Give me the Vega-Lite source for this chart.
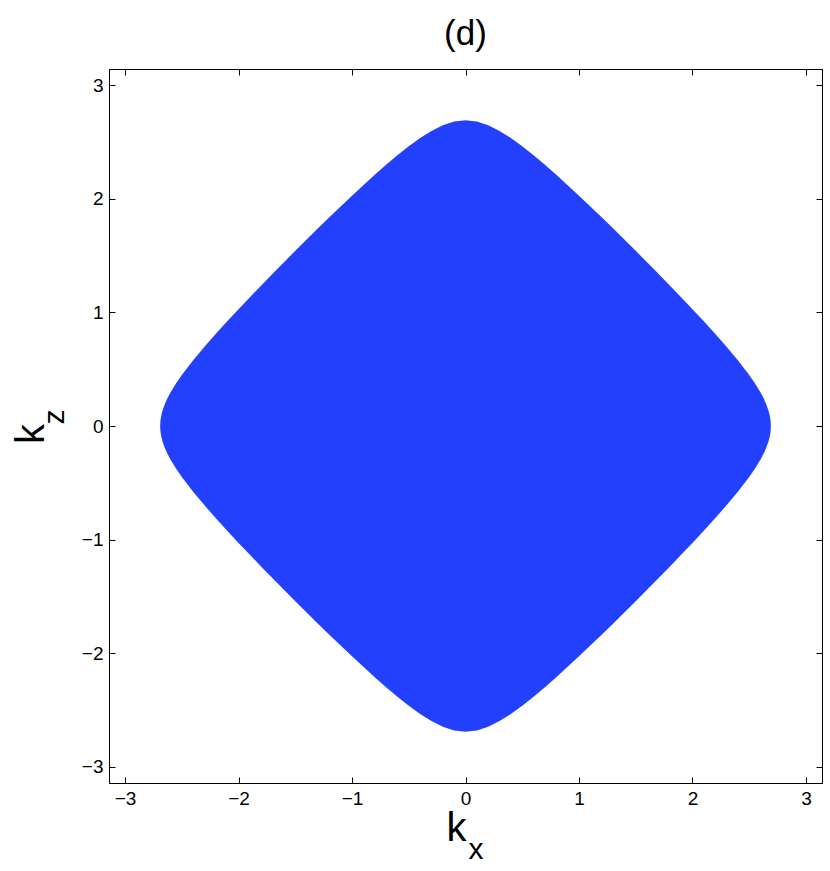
{
  "$schema": "https://vega.github.io/schema/vega-lite/v6.json",
  "width": 713,
  "height": 714,
  "autosize": "none",
  "padding": {"left": 109, "top": 69, "right": 8, "bottom": 88},
  "background": "white",
  "config": {"view": {"stroke": "black", "strokeWidth": 1}, "font": "Liberation Sans"},
  "title": {"text": "(d)", "fontSize": 35, "fontWeight": "normal", "font": "Liberation Sans", "color": "black", "anchor": "middle", "baseline": "alphabetic", "offset": 22, "dy": 33},
  "data": {"values": [
    {"kx": -2.6906, "kz_hi": 0, "kz_lo": 0},
    {"kx": -2.689, "kz_hi": 0.0370, "kz_lo": -0.0370},
    {"kx": -2.685, "kz_hi": 0.0699, "kz_lo": -0.0699},
    {"kx": -2.68, "kz_hi": 0.0965, "kz_lo": -0.0965},
    {"kx": -2.67, "kz_hi": 0.1354, "kz_lo": -0.1354},
    {"kx": -2.65, "kz_hi": 0.1922, "kz_lo": -0.1922},
    {"kx": -2.63, "kz_hi": 0.2373, "kz_lo": -0.2373},
    {"kx": -2.6, "kz_hi": 0.2947, "kz_lo": -0.2947},
    {"kx": -2.55, "kz_hi": 0.3762, "kz_lo": -0.3762},
    {"kx": -2.5, "kz_hi": 0.4484, "kz_lo": -0.4484},
    {"kx": -2.4, "kz_hi": 0.5783, "kz_lo": -0.5783},
    {"kx": -2.3, "kz_hi": 0.6978, "kz_lo": -0.6978},
    {"kx": -2.2, "kz_hi": 0.8114, "kz_lo": -0.8114},
    {"kx": -2.1, "kz_hi": 0.9212, "kz_lo": -0.9212},
    {"kx": -2.0, "kz_hi": 1.0285, "kz_lo": -1.0285},
    {"kx": -1.9, "kz_hi": 1.1337, "kz_lo": -1.1337},
    {"kx": -1.8, "kz_hi": 1.2375, "kz_lo": -1.2375},
    {"kx": -1.7, "kz_hi": 1.3399, "kz_lo": -1.3399},
    {"kx": -1.6, "kz_hi": 1.4412, "kz_lo": -1.4412},
    {"kx": -1.5, "kz_hi": 1.5415, "kz_lo": -1.5415},
    {"kx": -1.4, "kz_hi": 1.6408, "kz_lo": -1.6408},
    {"kx": -1.3, "kz_hi": 1.7391, "kz_lo": -1.7391},
    {"kx": -1.2, "kz_hi": 1.8363, "kz_lo": -1.8363},
    {"kx": -1.1, "kz_hi": 1.9322, "kz_lo": -1.9322},
    {"kx": -1.0, "kz_hi": 2.0267, "kz_lo": -2.0267},
    {"kx": -0.9, "kz_hi": 2.1195, "kz_lo": -2.1195},
    {"kx": -0.8, "kz_hi": 2.2102, "kz_lo": -2.2102},
    {"kx": -0.7, "kz_hi": 2.2981, "kz_lo": -2.2981},
    {"kx": -0.6, "kz_hi": 2.3823, "kz_lo": -2.3823},
    {"kx": -0.5, "kz_hi": 2.4616, "kz_lo": -2.4616},
    {"kx": -0.4, "kz_hi": 2.5341, "kz_lo": -2.5341},
    {"kx": -0.3, "kz_hi": 2.5970, "kz_lo": -2.5970},
    {"kx": -0.2, "kz_hi": 2.6468, "kz_lo": -2.6468},
    {"kx": -0.1, "kz_hi": 2.6791, "kz_lo": -2.6791},
    {"kx": 0.0, "kz_hi": 2.6906, "kz_lo": -2.6906},
    {"kx": 0.1, "kz_hi": 2.6791, "kz_lo": -2.6791},
    {"kx": 0.2, "kz_hi": 2.6468, "kz_lo": -2.6468},
    {"kx": 0.3, "kz_hi": 2.5970, "kz_lo": -2.5970},
    {"kx": 0.4, "kz_hi": 2.5341, "kz_lo": -2.5341},
    {"kx": 0.5, "kz_hi": 2.4616, "kz_lo": -2.4616},
    {"kx": 0.6, "kz_hi": 2.3823, "kz_lo": -2.3823},
    {"kx": 0.7, "kz_hi": 2.2981, "kz_lo": -2.2981},
    {"kx": 0.8, "kz_hi": 2.2102, "kz_lo": -2.2102},
    {"kx": 0.9, "kz_hi": 2.1195, "kz_lo": -2.1195},
    {"kx": 1.0, "kz_hi": 2.0267, "kz_lo": -2.0267},
    {"kx": 1.1, "kz_hi": 1.9322, "kz_lo": -1.9322},
    {"kx": 1.2, "kz_hi": 1.8363, "kz_lo": -1.8363},
    {"kx": 1.3, "kz_hi": 1.7391, "kz_lo": -1.7391},
    {"kx": 1.4, "kz_hi": 1.6408, "kz_lo": -1.6408},
    {"kx": 1.5, "kz_hi": 1.5415, "kz_lo": -1.5415},
    {"kx": 1.6, "kz_hi": 1.4412, "kz_lo": -1.4412},
    {"kx": 1.7, "kz_hi": 1.3399, "kz_lo": -1.3399},
    {"kx": 1.8, "kz_hi": 1.2375, "kz_lo": -1.2375},
    {"kx": 1.9, "kz_hi": 1.1337, "kz_lo": -1.1337},
    {"kx": 2.0, "kz_hi": 1.0285, "kz_lo": -1.0285},
    {"kx": 2.1, "kz_hi": 0.9212, "kz_lo": -0.9212},
    {"kx": 2.2, "kz_hi": 0.8114, "kz_lo": -0.8114},
    {"kx": 2.3, "kz_hi": 0.6978, "kz_lo": -0.6978},
    {"kx": 2.4, "kz_hi": 0.5783, "kz_lo": -0.5783},
    {"kx": 2.5, "kz_hi": 0.4484, "kz_lo": -0.4484},
    {"kx": 2.55, "kz_hi": 0.3762, "kz_lo": -0.3762},
    {"kx": 2.6, "kz_hi": 0.2947, "kz_lo": -0.2947},
    {"kx": 2.63, "kz_hi": 0.2373, "kz_lo": -0.2373},
    {"kx": 2.65, "kz_hi": 0.1922, "kz_lo": -0.1922},
    {"kx": 2.67, "kz_hi": 0.1354, "kz_lo": -0.1354},
    {"kx": 2.68, "kz_hi": 0.0965, "kz_lo": -0.0965},
    {"kx": 2.685, "kz_hi": 0.0699, "kz_lo": -0.0699},
    {"kx": 2.689, "kz_hi": 0.0370, "kz_lo": -0.0370},
    {"kx": 2.6906, "kz_hi": 0, "kz_lo": 0}
  ]},
  "layer": [
    {
      "mark": {"type": "area", "color": "#2340FF", "opacity": 1, "interpolate": "linear"},
      "encoding": {
        "x": {"field": "kx", "type": "quantitative",
          "scale": {"domain": [-3.14159, 3.14159], "nice": false, "zero": false},
          "axis": {"orient": "bottom", "values": [-3, -2, -1, 0, 1, 2, 3], "format": "d", "grid": false,
            "tickSize": -6, "tickColor": "black", "domainColor": "black", "labelFlush": false, "labelOverlap": false,
            "labelFontSize": 19, "labelColor": "black", "labelPadding": 12,
            "title": "k", "titleFontSize": 40, "titleFontWeight": "normal", "titleColor": "black",
            "titleX": 347, "titleY": 57, "titleBaseline": "alphabetic", "titleAlign": "center"}},
        "y": {"field": "kz_hi", "type": "quantitative",
          "scale": {"domain": [-3.14159, 3.14159], "nice": false, "zero": false},
          "axis": {"orient": "left", "values": [-3, -2, -1, 0, 1, 2, 3], "format": "d", "grid": false,
            "tickSize": -6, "tickColor": "black", "domainColor": "black", "labelFlush": false, "labelOverlap": false,
            "labelFontSize": 19, "labelColor": "black", "labelPadding": 12,
            "title": "k", "titleFontSize": 40, "titleFontWeight": "normal", "titleColor": "black",
            "titleAngle": 270, "titleX": -66, "titleY": 364.5, "titleBaseline": "alphabetic", "titleAlign": "center"}},
        "y2": {"field": "kz_lo"}
      }
    },
    {
      "mark": {"type": "area", "opacity": 0},
      "encoding": {
        "x": {"field": "kx", "type": "quantitative",
          "scale": {"domain": [-3.14159, 3.14159], "nice": false, "zero": false},
          "axis": {"orient": "top", "values": [-3, -2, -1, 0, 1, 2, 3], "labels": false, "grid": false,
            "tickSize": -6, "tickColor": "black", "domainColor": "black",
            "title": "x", "titleFontSize": 30, "titleFontWeight": "normal", "titleColor": "black",
            "titleX": 366.5, "titleY": 789, "titleBaseline": "alphabetic", "titleAlign": "center"}},
        "y": {"field": "kz_hi", "type": "quantitative",
          "scale": {"domain": [-3.14159, 3.14159], "nice": false, "zero": false},
          "axis": {"orient": "right", "values": [-3, -2, -1, 0, 1, 2, 3], "labels": false, "grid": false,
            "tickSize": -6, "tickColor": "black", "domainColor": "black",
            "title": "z", "titleFontSize": 30, "titleFontWeight": "normal", "titleColor": "black",
            "titleAngle": 270, "titleX": -759, "titleY": 347.5, "titleBaseline": "alphabetic", "titleAlign": "center"}},
        "y2": {"field": "kz_lo"}
      }
    }
  ],
  "resolve": {"scale": {"x": "independent", "y": "independent"}, "axis": {"x": "independent", "y": "independent"}}
}
